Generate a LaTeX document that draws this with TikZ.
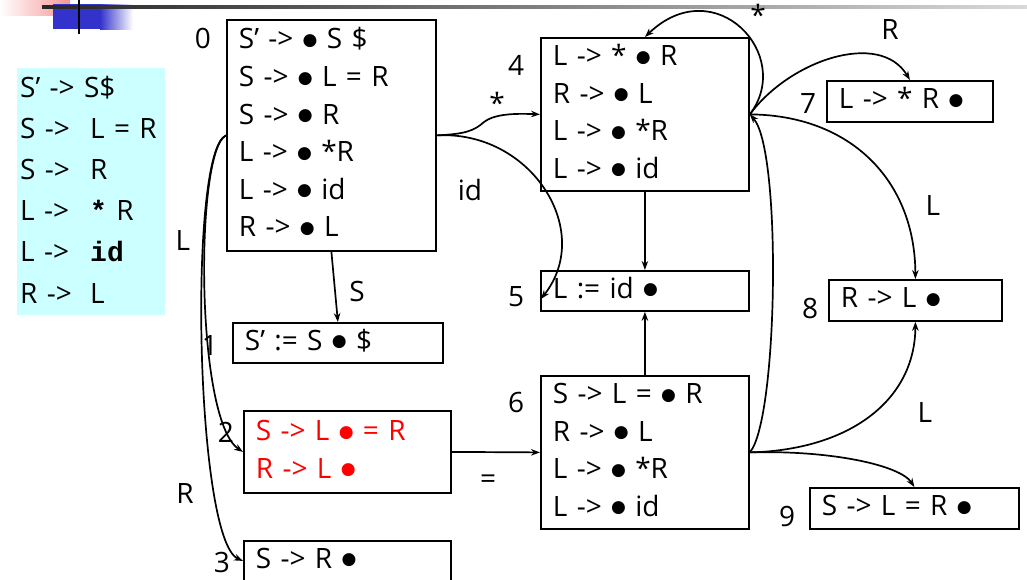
\documentclass[tikz,border=0pt]{standalone}
\usepackage{fontspec}
\setmainfont{Open Sans}
\newfontfamily\dvfont{DejaVu Sans}
\newfontfamily\monofont{Liberation Mono}
\usetikzlibrary{arrows.meta,calc}
\definecolor{gramcyan}{RGB}{204,255,255}
\definecolor{topblue}{RGB}{51,51,204}
\definecolor{toppink}{RGB}{245,150,150}
\newcommand\bul{\raisebox{3.5pt}{\dvfont\fontsize{17}{17}\selectfont ●}}
\newcommand\itemfont{\fontsize{28}{37.6}\selectfont\spaceskip=0.36em plus 0.1em}
\newcommand\gfont{\fontsize{28}{41.2}\selectfont}
\newcommand\lhs[1]{\makebox[70pt][l]{#1}}
\newcommand\mb[1]{{\monofont\bfseries #1}}
\tikzset{
  itembox/.style={draw, line width=1.8pt, anchor=north west, inner xsep=12pt,
    inner ysep=0pt, align=left, font=\itemfont},
  lbl/.style={font=\fontsize{28}{28}\selectfont, inner sep=0pt},
  conn/.style={line width=1.7pt, -{Stealth[length=9pt,width=6.5pt]}},
}
\begin{document}
\begin{tikzpicture}[x=1pt,y=-1pt]
\useasboundingbox (0,0) rectangle (1027,579);
% top decoration
\shade[left color=white, right color=toppink] (0,0) rectangle (70,15);
\fill[topblue] (53,4) rectangle (100,29);
\shade[left color=topblue, right color=white] (100,4) rectangle (133,29);
\shade[left color=black!85, right color=black!15] (42,5.5) rectangle (1027,8.5);
\draw[line width=2pt] (79,0) -- (79,34);
% grammar
\node[fill=gramcyan, anchor=north west, minimum width=148pt, minimum height=242pt,
  text width=142pt, inner xsep=3pt, inner ysep=0pt, align=left, font=\gfont] (gram) at (17,68)
  {\strut S’ -> S\$\\
   \strut\lhs{S ->}L = R\\
   \strut\lhs{S ->}R\\
   \strut\lhs{L ->}\mb{*} R\\
   \strut\lhs{L ->}\mb{id}\\
   \strut\lhs{R ->}L};
% item sets
\node[itembox, minimum width=209pt, minimum height=231pt, text width=185pt] (s0) at (226,19)
  {\strut S’ -> \bul{} S \$\\ \strut S -> \bul{} L = R\\ \strut S -> \bul{} R\\
   \strut L -> \bul{} *R\\ \strut L -> \bul{} id\\ \strut R -> \bul{} L};
\node[itembox, minimum width=210pt, minimum height=40pt, text width=186pt] (s1) at (232,322)
  {\strut S’ := S \bul{} \$};
\node[itembox, minimum width=207pt, minimum height=82pt, text width=183pt, text=red] (s2) at (243,410)
  {\strut S -> L \bul{} = R\\ \strut R -> L \bul};
\node[itembox, minimum width=207pt, minimum height=40pt, text width=183pt] (s3) at (243,540)
  {\strut S -> R \bul};
\node[itembox, minimum width=208pt, minimum height=153pt, text width=184pt] (s4) at (540,37)
  {\strut L -> * \bul{} R\\ \strut R -> \bul{} L\\ \strut L -> \bul{} *R\\ \strut L -> \bul{} id};
\node[itembox, minimum width=208pt, minimum height=40pt, text width=184pt] (s5) at (540,270)
  {\strut L := id \bul};
\node[itembox, minimum width=208pt, minimum height=153pt, text width=184pt] (s6) at (540,375)
  {\strut S -> L = \bul{} R\\ \strut R -> \bul{} L\\ \strut L -> \bul{} *R\\ \strut L -> \bul{} id};
\node[itembox, minimum width=166pt, minimum height=41pt, text width=142pt] (s7) at (826,80)
  {\strut L -> * R \bul};
\node[itembox, minimum width=173pt, minimum height=41pt, text width=149pt] (s8) at (828,279)
  {\strut R -> L \bul};
\node[itembox, minimum width=209pt, minimum height=41pt, text width=185pt] (s9) at (809,487)
  {\strut S -> L = R \bul};
% state numbers
\node[lbl] (n0) at (203,38) {0};
\node[lbl] (n1) at (210,345) {1};
\node[lbl] (n2) at (226,432) {2};
\node[lbl] (n3) at (222,562) {3};
\node[lbl] (n4) at (516,65) {4};
\node[lbl] (n5) at (516,297) {5};
\node[lbl] (n6) at (516,402) {6};
\node[lbl] (n7) at (808,104) {7};
\node[lbl] (n8) at (810,308) {8};
\node[lbl] (n9) at (787,516) {9};
% connectors
\draw[conn] (s0.south) -- (s1.north);
\draw[conn] (s0.east) .. controls (465,134) and (474,131) .. (484,122)
  .. controls (493,115) and (510,113) .. (s4.west);
\draw[conn] (s0.east) .. controls (530,130) and (595,230) .. ($(s5.west)+(1,8)$);
\draw[conn] (s0.west) .. controls (195,150) and (195,420) .. (s2.west);
\draw[conn] (s0.west) .. controls (188,150) and (195,540) .. (s3.west);
\draw[conn] (s4.east) .. controls (795,55) and (715,-30) .. (s4.north);
\draw[conn] (s4.east) .. controls (790,60) and (880,30) .. (s7.north);
\draw[conn] (s4.east) .. controls (850,115) and (915,180) .. (s8.north);
\draw[conn] (s4.south) -- (s5.north);
\draw[conn] (s6.north) -- (s5.south);
\draw[conn] (s2.east) -- (s6.west);
\draw[conn] (s6.east) .. controls (778,420) and (782,150) .. (s4.east);
\draw[conn] (s6.east) .. controls (850,450) and (915,400) .. (s8.south);
\draw[conn] (s6.east) .. controls (830,450) and (900,465) .. (s9.north);
% edge labels
\node[lbl] (lS) at (357,291) {S};
\node[lbl] (lstar) at (497,103) {*};
\node[lbl] (lid) at (470,190) {id};
\node[lbl] (lL0) at (183,240) {L};
\node[lbl] (lR0) at (185,493) {R};
\node[lbl] (lstar4) at (758,15) {*};
\node[lbl] (lR4) at (890,30) {R};
\node[lbl] (lL4) at (933,205) {L};
\node[lbl] (lL6) at (925,412) {L};
\node[lbl] (leq) at (488,482) {=};
\end{tikzpicture}
\end{document}
